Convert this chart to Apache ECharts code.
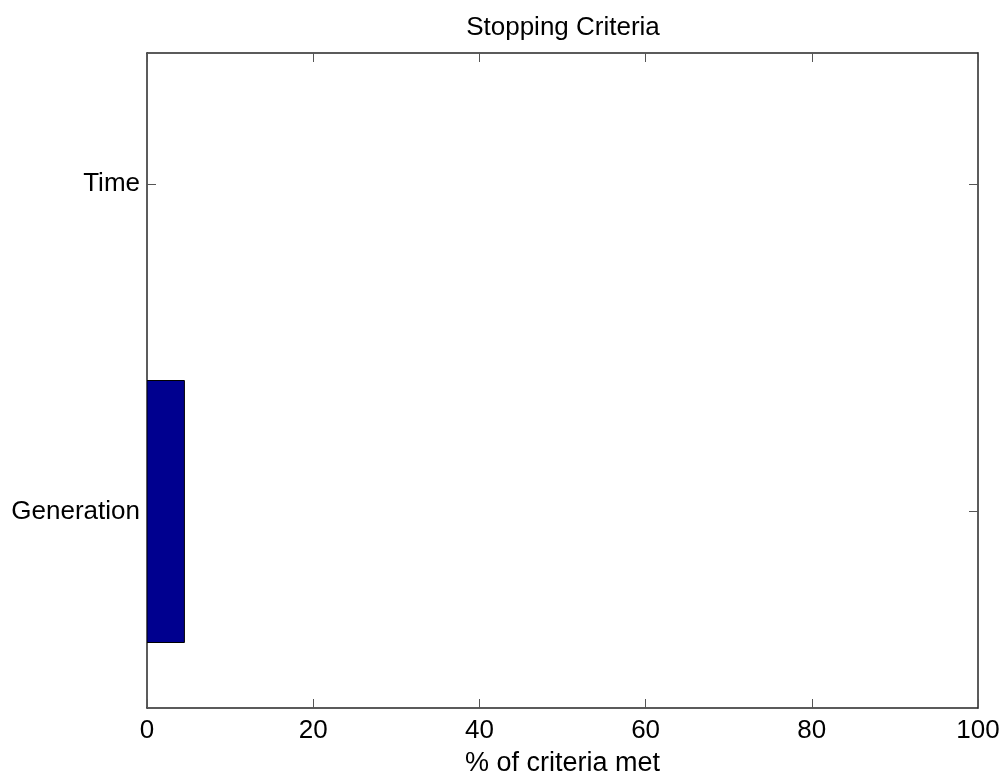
<!DOCTYPE html>
<html>
<head>
<meta charset="utf-8">
<script src="https://cdn.jsdelivr.net/npm/echarts@6/dist/echarts.min.js"></script>
<style>
  html, body { margin: 0; padding: 0; background: #fff; }
  #chart { width: 1008px; height: 782px; }
</style>
</head>
<body>
<div id="chart"></div>
<script>
// Stopping criteria share, one horizontal bar per criterion
const categories = ['Generation', 'Time'];
const categoryPositions = [1, 2];
const percentMet = [4.5, 0];
const xTicks = [0, 20, 40, 60, 80, 100];

const BAR_WIDTH = 0.8;
const FONT = 'Liberation Sans, Arial, Helvetica, sans-serif';
const AXIS_COLOR = '#262626';

const barData = categories.map((c, i) => [percentMet[i], categoryPositions[i]]);
const labelOf = v => {
  const i = categoryPositions.indexOf(Math.round(v));
  return i >= 0 ? categories[i] : '';
};

const chart = echarts.init(document.getElementById('chart'), null, { renderer: 'canvas' });

const frameAxisLine = { show: true, onZero: false, lineStyle: { color: AXIS_COLOR, width: 1.5 } };
const innerTick = { show: true, inside: true, length: 9, lineStyle: { color: '#555', width: 1 } };

chart.setOption({
  animation: false,
  backgroundColor: '#fff',
  title: {
    text: 'Stopping Criteria',
    left: 558, top: 10, textAlign: 'center',
    textStyle: { fontFamily: FONT, fontSize: 26, fontWeight: 'normal', color: '#000' }
  },
  grid: { left: 147, top: 53, right: 30, bottom: 73, containLabel: false },
  xAxis: [
    {
      type: 'value', position: 'bottom', min: xTicks[0], max: xTicks[xTicks.length - 1], interval: 20,
      axisLine: frameAxisLine,
      axisTick: innerTick,
      splitLine: { show: false },
      axisLabel: { fontFamily: FONT, fontSize: 26, color: '#000', margin: 10 },
      name: '% of criteria met', nameLocation: 'middle', nameGap: 42,
      nameTextStyle: { fontFamily: FONT, fontSize: 27, color: '#000' }
    },
    {
      type: 'value', position: 'top', min: xTicks[0], max: xTicks[xTicks.length - 1], interval: 20,
      axisLine: frameAxisLine,
      axisTick: innerTick,
      splitLine: { show: false },
      axisLabel: { show: false }
    }
  ],
  yAxis: [
    {
      type: 'value', position: 'left', min: 0.4, max: 2.4,
      axisLine: frameAxisLine,
      axisTick: Object.assign({}, innerTick, { customValues: categoryPositions }),
      splitLine: { show: false },
      axisLabel: {
        customValues: categoryPositions,
        formatter: v => labelOf(v),
        fontFamily: FONT, fontSize: 26, color: '#000', margin: 7
      }
    },
    {
      type: 'value', position: 'right', min: 0.4, max: 2.4,
      axisLine: frameAxisLine,
      axisTick: Object.assign({}, innerTick, { customValues: categoryPositions }),
      splitLine: { show: false },
      axisLabel: { show: false, customValues: categoryPositions }
    }
  ],
  series: [{
    type: 'custom',
    xAxisIndex: 0, yAxisIndex: 0,
    clip: true,
    data: barData,
    renderItem: (params, api) => {
      const v = api.value(0), y = api.value(1);
      if (!v) return null;
      const p0 = api.coord([0, y + BAR_WIDTH / 2]);
      const p1 = api.coord([v, y - BAR_WIDTH / 2]);
      return {
        type: 'rect',
        shape: { x: p0[0], y: p0[1], width: p1[0] - p0[0], height: p1[1] - p0[1] },
        style: { fill: '#00008f', stroke: '#000', lineWidth: 1 }
      };
    }
  }]
});
</script>
</body>
</html>
